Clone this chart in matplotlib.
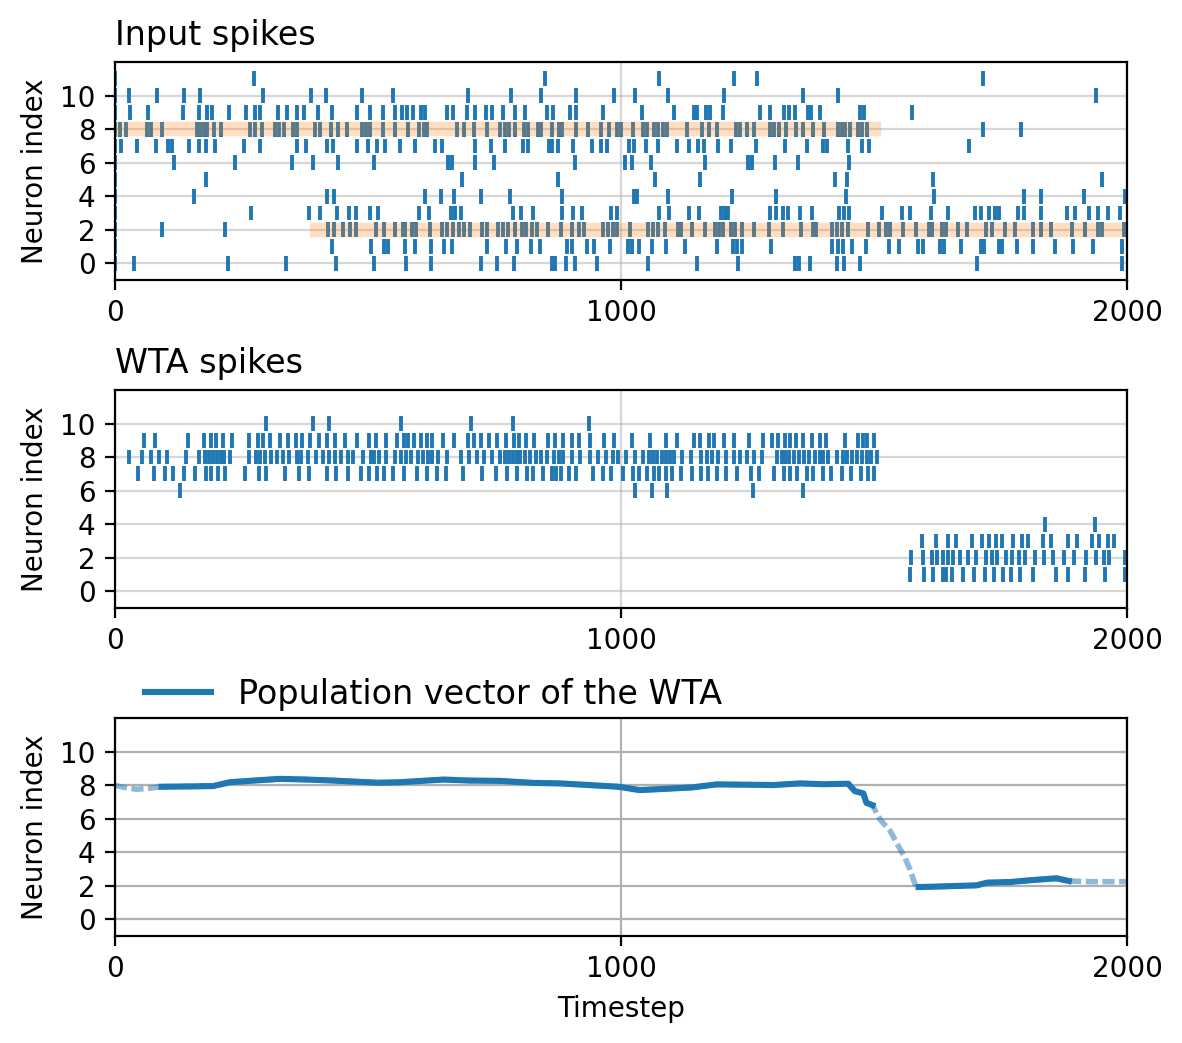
import matplotlib
matplotlib.use("Agg")
import matplotlib.pyplot as plt
import numpy as np

# ---------------- data ----------------
input_spikes = {
    11: [0, 274, 850, 1076, 1223, 1268, 1715],
    10: [0, 28, 82, 136, 167, 292, 387, 416, 488, 549, 698, 782, 841, 912, 986, 1027, 1092, 1204, 1360, 1428, 1939],
    9: [0, 30, 65, 134, 165, 182, 192, 225, 258, 276, 287, 323, 339, 359, 373, 401, 429, 478, 503, 529, 553, 568,
        578, 588, 605, 612, 657, 667, 696, 712, 733, 746, 767, 791, 810, 853, 866, 899, 911, 964, 1041, 1104, 1144,
        1151, 1167, 1176, 1201, 1275, 1294, 1322, 1332, 1344, 1370, 1375, 1393, 1472, 1481, 1575],
    8: [0, 10, 22, 63, 71, 92, 162, 168, 175, 181, 195, 209, 266, 277, 291, 316, 324, 333, 351, 360, 395, 405, 426,
        441, 459, 489, 496, 503, 530, 554, 579, 600, 611, 617, 675, 690, 709, 735, 761, 770, 778, 790, 808, 817, 835,
        842, 863, 878, 884, 911, 935, 960, 977, 993, 1000, 1024, 1044, 1052, 1065, 1074, 1082, 1091, 1131, 1161, 1173,
        1189, 1227, 1235, 1248, 1263, 1294, 1303, 1312, 1327, 1345, 1359, 1380, 1402, 1428, 1436, 1443, 1452, 1469,
        1476, 1487, 1715, 1790],
    7: [0, 12, 43, 81, 104, 113, 146, 165, 180, 198, 255, 287, 359, 377, 419, 430, 478, 499, 517, 534, 563, 592, 632,
        646, 711, 744, 770, 806, 816, 858, 864, 876, 905, 943, 961, 972, 1015, 1025, 1049, 1073, 1111, 1134, 1152,
        1163, 1191, 1217, 1266, 1324, 1367, 1399, 1408, 1449, 1476, 1491, 1687],
    6: [0, 117, 237, 349, 391, 440, 511, 659, 666, 711, 748, 910, 1008, 1021, 1059, 1166, 1251, 1259, 1304, 1349, 1451],
    5: [0, 180, 686, 875, 1067, 1157, 1423, 1446, 1616, 1950],
    4: [0, 157, 418, 432, 613, 644, 670, 723, 781, 883, 1025, 1032, 1092, 1219, 1306, 1445, 1618, 1796, 1829, 1914, 1995],
    3: [0, 269, 383, 406, 439, 462, 476, 504, 519, 601, 621, 664, 671, 683, 786, 802, 827, 883, 905, 922, 980, 993,
        1075, 1095, 1134, 1154, 1198, 1205, 1212, 1295, 1306, 1321, 1329, 1354, 1377, 1431, 1441, 1451, 1515, 1555,
        1572, 1612, 1646, 1700, 1711, 1727, 1740, 1747, 1784, 1796, 1829, 1881, 1897, 1924, 1943, 1963, 1987],
    2: [0, 92, 217, 421, 433, 451, 465, 476, 516, 532, 553, 569, 574, 586, 595, 623, 646, 657, 667, 679, 690, 702, 725,
        736, 756, 766, 776, 791, 804, 812, 824, 833, 855, 881, 904, 916, 926, 964, 974, 984, 993, 1017, 1054, 1064,
        1073, 1086, 1112, 1119, 1141, 1166, 1186, 1194, 1201, 1217, 1226, 1239, 1262, 1292, 1320, 1355, 1379, 1385,
        1416, 1426, 1436, 1449, 1488, 1510, 1524, 1532, 1557, 1582, 1609, 1615, 1635, 1642, 1665, 1683, 1721, 1733,
        1758, 1778, 1815, 1829, 1849, 1891, 1916, 1943, 1951, 1994],
    1: [0, 429, 506, 531, 539, 573, 592, 625, 650, 665, 735, 772, 794, 823, 840, 894, 903, 933, 947, 978, 1013, 1022,
        1036, 1061, 1088, 1127, 1189, 1222, 1229, 1239, 1296, 1416, 1428, 1439, 1457, 1484, 1530, 1549, 1586, 1597,
        1630, 1639, 1671, 1711, 1718, 1746, 1752, 1782, 1814, 1858, 1894, 1933, 1991],
    0: [0, 37, 223, 338, 437, 512, 575, 625, 723, 754, 789, 863, 870, 891, 910, 952, 1053, 1150, 1232, 1343, 1352,
        1373, 1427, 1440, 1472, 1703, 1991],
}

wta_spikes = {
    10: [298, 391, 422, 565, 703, 786, 936],
    9: [57, 80, 144, 175, 189, 199, 213, 231, 264, 282, 292, 306, 326, 341, 357, 370, 385, 403, 418, 434, 454, 478,
        501, 515, 535, 557, 572, 580, 590, 604, 616, 626, 648, 669, 697, 709, 723, 740, 754, 772, 788, 798, 812, 829,
        855, 869, 885, 903, 916, 938, 966, 987, 1021, 1057, 1088, 1110, 1144, 1157, 1173, 1183, 1203, 1223, 1252,
        1280, 1298, 1310, 1325, 1334, 1345, 1359, 1377, 1393, 1406, 1442, 1468, 1478, 1487, 1499],
    8: [27, 53, 72, 86, 102, 140, 165, 177, 185, 193, 201, 209, 216, 227, 264, 278, 287, 296, 308, 320, 332, 343, 359,
        367, 381, 397, 411, 423, 434, 446, 461, 470, 490, 505, 511, 521, 535, 553, 565, 575, 585, 598, 608, 618, 626,
        638, 656, 683, 699, 715, 729, 746, 760, 771, 779, 787, 795, 801, 810, 820, 831, 841, 853, 867, 878, 886, 903,
        918, 938, 954, 970, 984, 995, 1009, 1027, 1043, 1055, 1064, 1072, 1080, 1088, 1096, 1104, 1120, 1138, 1159,
        1169, 1179, 1191, 1207, 1223, 1235, 1248, 1262, 1278, 1308, 1318, 1324, 1332, 1341, 1351, 1361, 1371, 1383,
        1393, 1400, 1410, 1426, 1439, 1446, 1456, 1466, 1476, 1487, 1495, 1505],
    7: [45, 78, 98, 114, 136, 159, 180, 189, 203, 217, 256, 284, 298, 335, 363, 383, 418, 436, 460, 486, 501, 517, 531,
        549, 572, 596, 616, 636, 654, 687, 725, 752, 774, 794, 814, 827, 845, 864, 872, 881, 897, 912, 944, 964, 980,
        1003, 1024, 1035, 1051, 1065, 1076, 1088, 1100, 1118, 1140, 1158, 1171, 1189, 1207, 1229, 1256, 1272, 1302,
        1323, 1333, 1347, 1367, 1379, 1399, 1414, 1436, 1454, 1474, 1489, 1499],
    6: [128, 1027, 1061, 1090, 1260, 1359],
    4: [1837, 1936],
    3: [1595, 1622, 1647, 1662, 1693, 1713, 1728, 1742, 1753, 1774, 1792, 1805, 1833, 1849, 1884, 1902, 1930, 1944,
        1962, 1975],
    2: [1574, 1596, 1614, 1624, 1637, 1647, 1657, 1669, 1685, 1701, 1722, 1734, 1744, 1760, 1772, 1786, 1799, 1819,
        1835, 1853, 1875, 1896, 1918, 1938, 1954, 1965, 1995],
    1: [1572, 1598, 1616, 1636, 1643, 1655, 1675, 1697, 1720, 1738, 1754, 1770, 1788, 1815, 1859, 1884, 1916, 1956,
        1995],
}

# input pattern bands: (neuron, start, end)
pattern_neurons = [8, 2]
pattern_starts = [0, 400]
pattern_ends = [1500, 2000]

# population vector of the WTA
pv_t = [0, 20, 43, 70, 92, 150, 194, 227, 280, 326, 379, 430, 471, 520, 563, 649, 700, 761, 827, 880, 926, 995,
        1037, 1090, 1140, 1189, 1255, 1300, 1354, 1400, 1449, 1462, 1479, 1485, 1497, 1512, 1532, 1548, 1561, 1571,
        1581, 1588, 1617, 1660, 1703, 1723, 1770, 1815, 1861, 1885, 1930, 2000]
pv_v = [7.98, 7.85, 7.75, 7.82, 7.90, 7.92, 7.94, 8.17, 8.28, 8.37, 8.33, 8.27, 8.21, 8.14, 8.17, 8.33, 8.27,
        8.25, 8.13, 8.10, 8.02, 7.90, 7.70, 7.78, 7.86, 8.04, 8.02, 8.00, 8.10, 8.05, 8.08, 7.64, 7.50, 6.94,
        6.80, 5.95, 5.26, 4.37, 3.67, 2.98, 2.08, 1.92, 1.94, 1.98, 2.02, 2.18, 2.22, 2.34, 2.44, 2.28, 2.24,
        2.24]
solid_ranges = [(92, 1497), (1588, 1885)]

xticks = [0, 1000, 2000]
yticks = [0, 2, 4, 6, 8, 10]

# ---------------- figure ----------------
plt.rcParams['font.family'] = ['DejaVu Sans']
fig = plt.figure(figsize=(5.91, 5.215), dpi=200)

L, W, H = 0.0973, 0.8562, 0.209
ax1 = fig.add_axes([L, 0.7315, W, H])
ax2 = fig.add_axes([L, 0.4171, W, H])
ax3 = fig.add_axes([L, 0.1026, W, H])

blue = '#1f77b4'


def raster(ax, spikes):
    neurons = sorted(spikes.keys())
    ax.eventplot([spikes[n] for n in neurons], lineoffsets=neurons, linelengths=0.88,
                 linewidths=1.4, colors=blue)


raster(ax1, input_spikes)
for n, s, e in zip(pattern_neurons, pattern_starts, pattern_ends):
    ax1.plot([s, e], [n, n], color='tab:orange', alpha=0.25, lw=5.2, solid_capstyle='projecting')
raster(ax2, wta_spikes)

pv_t_arr = np.array(pv_t)
pv_v_arr = np.array(pv_v)
ax3.plot(pv_t_arr, pv_v_arr, color=blue, alpha=0.5, lw=2, linestyle=(0, (2.2, 0.8)))
first = True
for s, e in solid_ranges:
    m = (pv_t_arr >= s) & (pv_t_arr <= e)
    ax3.plot(pv_t_arr[m], pv_v_arr[m], '-', color=blue, lw=2.2,
             label='Population vector of the WTA' if first else None)
    first = False

for ax in (ax1, ax2, ax3):
    ax.set_xlim(0, 2000)
    ax.set_ylim(-1, 12)
    ax.set_xticks(xticks)
    ax.set_yticks(yticks)
    ax.set_ylabel('Neuron index')
    ax.tick_params(labelsize=10)

for ax in (ax1, ax2):
    ax.grid(True, color='#b0b0b0', alpha=0.5, lw=0.8)
ax3.grid(True, color='#b0b0b0', lw=0.8)

ax1.set_title('Input spikes', loc='left', fontsize=12)
ax2.set_title('WTA spikes', loc='left', fontsize=12)
ax3.set_xlabel('Timestep')
ax3.legend(loc='lower left', bbox_to_anchor=(0.016, 0.972), borderaxespad=0.0, frameon=False, fontsize=12)

fig.savefig('out.png', dpi=200)
